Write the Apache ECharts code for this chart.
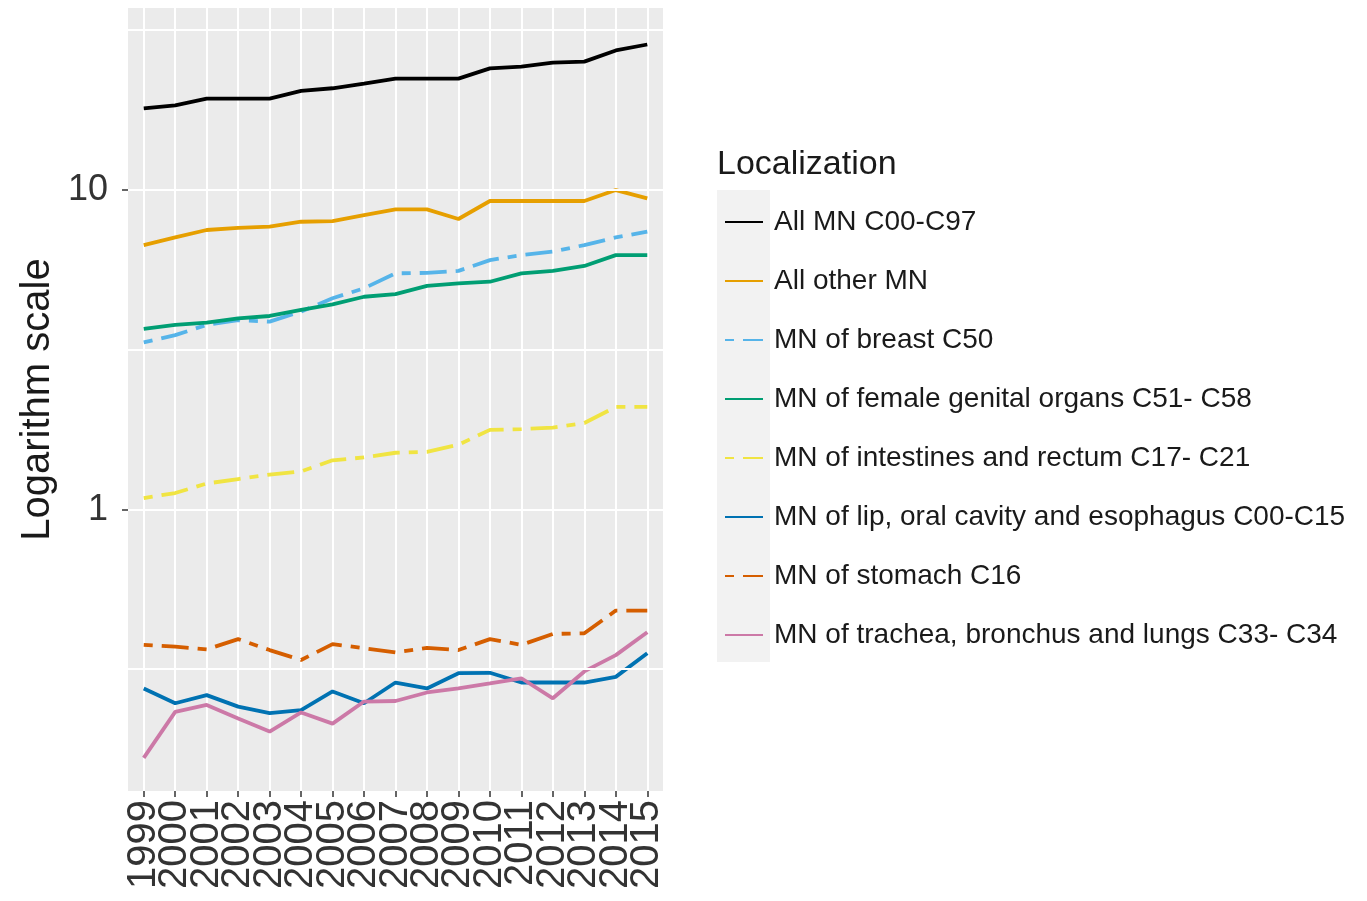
<!DOCTYPE html>
<html>
<head>
<meta charset="utf-8">
<title>Malignant neoplasms by localization, 1999–2015</title>
<script src="https://cdn.jsdelivr.net/npm/echarts@6/dist/echarts.min.js"></script>
<style>
  html, body { margin: 0; padding: 0; background: #ffffff; }
  #chart { width: 1367px; height: 901px; }
</style>
</head>
<body>
<div id="chart"></div>
<script>
// Years on the horizontal axis
const years = ['1999', '2000', '2001', '2002', '2003', '2004', '2005', '2006', '2007', '2008', '2009', '2010', '2011', '2012', '2013', '2014', '2015'];

// Rates per localization (log scale)
const allMN      = [18.0, 18.4, 19.3, 19.3, 19.3, 20.4, 20.8, 21.5, 22.3, 22.3, 22.3, 24.0, 24.3, 25.0, 25.2, 27.3, 28.5];
const allOther   = [6.73, 7.11, 7.50, 7.62, 7.68, 7.96, 8.00, 8.35, 8.70, 8.70, 8.12, 9.24, 9.24, 9.24, 9.24, 10.0, 9.42];
const breast     = [3.34, 3.52, 3.79, 3.92, 3.88, 4.17, 4.59, 4.93, 5.49, 5.51, 5.59, 6.04, 6.26, 6.42, 6.73, 7.11, 7.41];
const female     = [3.68, 3.79, 3.85, 3.97, 4.04, 4.22, 4.39, 4.64, 4.73, 5.02, 5.11, 5.17, 5.49, 5.59, 5.79, 6.26, 6.26];
const intestines = [1.09, 1.13, 1.21, 1.25, 1.29, 1.32, 1.43, 1.46, 1.51, 1.52, 1.60, 1.78, 1.79, 1.81, 1.87, 2.10, 2.10];
const lip        = [0.277, 0.249, 0.264, 0.243, 0.232, 0.237, 0.271, 0.249, 0.289, 0.277, 0.309, 0.310, 0.289, 0.289, 0.289, 0.301, 0.357];
const stomach    = [0.379, 0.374, 0.367, 0.395, 0.365, 0.340, 0.381, 0.370, 0.359, 0.371, 0.365, 0.395, 0.379, 0.410, 0.412, 0.485, 0.485];
const trachea    = [0.168, 0.234, 0.246, 0.223, 0.203, 0.233, 0.215, 0.252, 0.253, 0.269, 0.277, 0.287, 0.298, 0.258, 0.313, 0.352, 0.415];

const seriesNames = [
  'All MN C00-C97',
  'All other MN',
  'MN of breast C50',
  'MN of female genital organs C51- C58',
  'MN of intestines and rectum C17- C21',
  'MN of lip, oral cavity and esophagus C00-C15',
  'MN of stomach C16',
  'MN of trachea, bronchus and lungs C33- C34'
];
const seriesValues = [allMN, allOther, breast, female, intestines, lip, stomach, trachea];
const seriesColors = ['#000000', '#E69F00', '#56B4E9', '#009E73', '#F0E442', '#0072B2', '#D55E00', '#CC79A7'];
const seriesDashed = [false, false, true, false, true, false, true, false];

// Axis labels and gridline positions
const yLabelValues = [1, 10];
const yGridValues = [0.31623, 1, 3.1623, 10, 31.623];

const FONT = 'Liberation Sans, Arial, Helvetica, sans-serif';
const twoDash = [9, 9, 27, 9];

const lineSeries = seriesNames.map((name, k) => ({
  name: name,
  type: 'line',
  z: 3,
  symbol: 'none',
  showSymbol: false,
  smooth: false,
  data: seriesValues[k],
  lineStyle: {
    color: seriesColors[k],
    width: 3.8,
    type: seriesDashed[k] ? twoDash : 'solid',
    cap: 'butt'
  },
  itemStyle: { color: seriesColors[k] },
  emphasis: { disabled: true }
}));

// Horizontal panel gridlines (major at decades, minor half-way in log space)
const gridSeries = {
  name: '__grid',
  type: 'line',
  z: 1,
  data: [],
  silent: true,
  markLine: {
    silent: true,
    symbol: 'none',
    label: { show: false },
    animation: false,
    lineStyle: { color: '#ffffff', type: 'solid', width: 2 },
    emphasis: { disabled: true },
    data: yGridValues.map(v => ({ yAxis: v }))
  }
};

const chart = echarts.init(document.getElementById('chart'), null, { renderer: 'canvas' });

chart.setOption({
  animation: false,
  backgroundColor: '#ffffff',
  textStyle: { fontFamily: FONT },
  title: {
    text: 'Localization',
    left: 712,
    top: 143,
    textStyle: { fontFamily: FONT, fontSize: 34, fontWeight: 'normal', color: '#1a1a1a' }
  },
  legend: {
    data: seriesNames,
    orient: 'vertical',
    left: 719,
    top: 202,
    itemWidth: 38,
    itemHeight: 14,
    itemGap: 29,
    selectedMode: false,
    itemStyle: { opacity: 0 },
    textStyle: { fontFamily: FONT, fontSize: 28, color: '#1a1a1a', lineHeight: 30, padding: [0, 0, 0, 6] }
  },
  graphic: [{
    type: 'rect',
    left: 717,
    top: 190,
    z: -1,
    shape: { width: 53, height: 472 },
    style: { fill: '#f2f2f2' },
    silent: true
  }],
  grid: {
    left: 128,
    top: 8,
    width: 535,
    height: 783,
    show: true,
    backgroundColor: '#ebebeb',
    borderWidth: 0,
    containLabel: false
  },
  xAxis: {
    type: 'category',
    data: years,
    boundaryGap: true,
    axisLine: { show: false },
    axisTick: {
      show: true,
      alignWithLabel: true,
      interval: 0,
      length: 6,
      lineStyle: { color: '#333333', width: 1.5 }
    },
    axisLabel: {
      rotate: 90,
      margin: 9,
      interval: 0,
      hideOverlap: false,
      fontFamily: FONT,
      fontSize: 40,
      lineHeight: 22,
      color: '#333333'
    },
    splitLine: { show: true, alignWithLabel: true, interval: 0, lineStyle: { color: '#ffffff', width: 2 } }
  },
  yAxis: {
    type: 'log',
    logBase: 10,
    min: 0.1324,
    max: 37.06,
    name: 'Logarithm scale',
    nameLocation: 'middle',
    nameGap: 70,
    nameTextStyle: { fontFamily: FONT, fontSize: 40, color: '#1a1a1a' },
    axisLine: { show: false },
    axisTick: {
      show: true,
      customValues: yLabelValues,
      length: 6,
      lineStyle: { color: '#333333', width: 1.5 }
    },
    axisLabel: {
      customValues: yLabelValues,
      margin: 20,
      fontFamily: FONT,
      fontSize: 36,
      color: '#333333',
      formatter: v => String(Math.round(v))
    },
    splitLine: { show: false },
    minorSplitLine: { show: false }
  },
  series: [gridSeries].concat(lineSeries)
});
</script>
</body>
</html>
